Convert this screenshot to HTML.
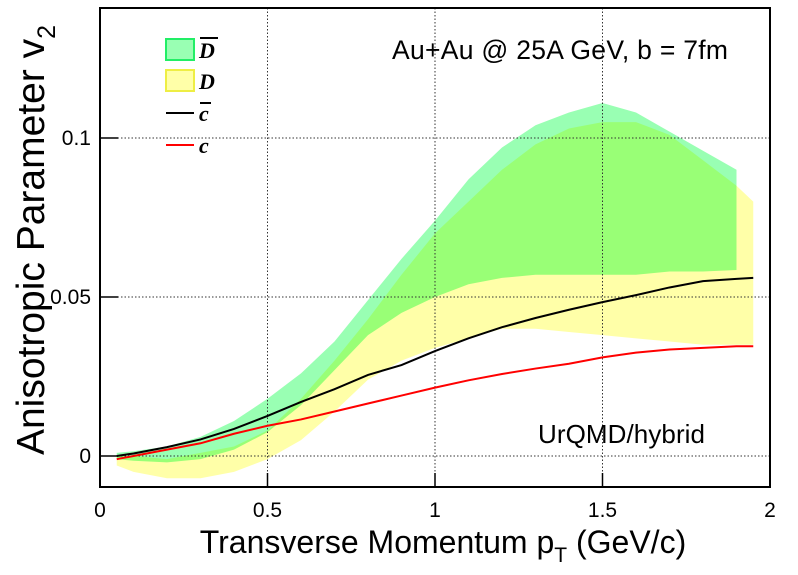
<!DOCTYPE html>
<html><head><meta charset="utf-8">
<style>
body{margin:0;background:#fff;}
svg{display:block;font-family:"Liberation Sans",sans-serif;}
</style></head><body>
<svg id="chart" width="798" height="575" viewBox="0 0 798 575">
<g id="bands"></g><g id="grid"></g><g id="lines"></g><g id="axes"></g>
</svg>
<script>
const xs = [0.05,0.1,0.2,0.3,0.4,0.5,0.6,0.7,0.8,0.9,1.0,1.1,1.2,1.3,1.4,1.5,1.6,1.7,1.8,1.9,1.95];
const greenUpper = [0.001,0.0015,0.003,0.006,0.011,0.018,0.026,0.036,0.049,0.062,0.074,0.087,0.097,0.104,0.108,0.111,0.108,0.102,0.096,0.09];
const greenLower = [-0.001,-0.0015,-0.002,-0.001,0.002,0.0075,0.016,0.027,0.038,0.045,0.05,0.054,0.056,0.057,0.057,0.057,0.057,0.058,0.058,0.0585];
const yellowUpper = [0,0,-0.001,0.001,0.003,0.008,0.018,0.03,0.043,0.057,0.07,0.08,0.09,0.098,0.103,0.105,0.105,0.101,0.093,0.085,0.08];
const yellowLower = [-0.003,-0.005,-0.007,-0.007,-0.005,-0.001,0.005,0.014,0.024,0.03,0.034,0.037,0.04,0.04,0.039,0.038,0.037,0.036,0.035,0.035,0.035];
const cbar = [0,0.0008,0.0028,0.0052,0.0085,0.0126,0.017,0.021,0.0255,0.0286,0.033,0.037,0.0405,0.0434,0.046,0.0484,0.0506,0.053,0.055,0.0557,0.056];
const cq = [-0.001,0,0.002,0.004,0.007,0.0095,0.0115,0.014,0.0165,0.019,0.0215,0.0238,0.0258,0.0275,0.029,0.031,0.0325,0.0335,0.034,0.0345,0.0345];
const xTicks = [0,0.5,1,1.5,2];
const xTickLabels = ["0","0.5","1","1.5","2"];
const yTicks = [0,0.05,0.1];
const yTickLabels = ["0","0.05","0.1"];

const L=100,R=770,T=8,B=487;
const X=v=>L+(v/2)*(R-L);
const Y=v=>456-v*3180;
const NS="http://www.w3.org/2000/svg";
function mk(tag,attrs,parent){const e=document.createElementNS(NS,tag);for(const k in attrs)e.setAttribute(k,attrs[k]);document.getElementById(parent).appendChild(e);return e;}
function bandPath(u,l){let n=Math.min(u.length,l.length);let d="";for(let i=0;i<n;i++)d+=(i?"L":"M")+X(xs[i])+","+Y(u[i]);for(let i=n-1;i>=0;i--)d+="L"+X(xs[i])+","+Y(l[i]);return d+"Z";}
function linePath(a){return a.map((v,i)=>(i?"L":"M")+X(xs[i])+","+Y(v)).join("");}

let e;
e=mk("path",{d:bandPath(yellowUpper,yellowLower),fill:"#ffffa8"},"bands");


e=mk("path",{d:bandPath(greenUpper,greenLower),fill:"#99ffb3",style:"mix-blend-mode:multiply"},"bands");



xTicks.forEach((t,i)=>{
 if(t>0&&t<2){e=mk("line",{x1:X(t),x2:X(t),y1:T,y2:B,stroke:"#333","stroke-dasharray":"1.5,2","stroke-width":1},"grid");
 
 }
 e=mk("line",{x1:X(t),x2:X(t),y1:B,y2:B-14,stroke:"#000","stroke-width":1.5},"axes");
 
 
 e=mk("text",{x:X(t),y:517,"font-size":21,"text-anchor":"middle"},"axes");e.textContent=xTickLabels[i];
 
 
});
yTicks.forEach((t,i)=>{
 e=mk("line",{x1:L,x2:R,y1:Y(t),y2:Y(t),stroke:"#333","stroke-dasharray":"1.5,2","stroke-width":1},"grid");
 
 
 e=mk("line",{x1:L,x2:L+18,y1:Y(t),y2:Y(t),stroke:"#000","stroke-width":1.5},"axes");
 
 
 e=mk("text",{x:91,y:Y(t)+7,"font-size":21,"text-anchor":"end"},"axes");e.textContent=yTickLabels[i];
 
 
});

e=mk("path",{d:linePath(cbar),fill:"none",stroke:"#000","stroke-width":2},"lines");


e=mk("path",{d:linePath(cq),fill:"none",stroke:"#f00","stroke-width":2},"lines");



e=mk("rect",{x:L,y:T,width:R-L,height:B-T,fill:"none",stroke:"#000","stroke-width":2},"axes");


</script>
<svg style="position:absolute;left:0;top:0" width="798" height="575">
<g font-family="Liberation Sans, sans-serif">
<text x="44" y="240" font-size="39" text-anchor="middle" transform="rotate(-90 44 240)">Anisotropic Parameter v<tspan font-size="25" dy="11">2</tspan></text>
<text x="443" y="553" font-size="32" text-anchor="middle">Transverse Momentum p<tspan font-size="21" dy="9">T</tspan><tspan dy="-9"> (GeV/c)</tspan></text>
<text x="392" y="59" font-size="26.5" textLength="336">Au+Au @ 25A GeV, b = 7fm</text>
<text x="538" y="443" font-size="26" textLength="167">UrQMD/hybrid</text>
</g>
<g font-family="Liberation Serif, serif" font-weight="bold" font-style="italic" font-size="22">
<rect x="166" y="39" width="28" height="21" fill="#99ffb3" stroke="#22ee66" stroke-width="2"/>
<text x="199" y="58">D</text>
<line x1="200" x2="218" y1="38" y2="38" stroke="#000" stroke-width="2"/>
<rect x="166" y="70" width="28" height="21" fill="#ffffa8" stroke="#eeee44" stroke-width="2"/>
<text x="199" y="89">D</text>
<line x1="166" x2="194" y1="113" y2="113" stroke="#000" stroke-width="2"/>
<text x="199" y="121">c</text>
<line x1="200" x2="211" y1="103" y2="103" stroke="#000" stroke-width="2"/>
<line x1="166" x2="194" y1="145" y2="145" stroke="#f00" stroke-width="2"/>
<text x="199" y="153">c</text>
</g>
</svg>
</body></html>
